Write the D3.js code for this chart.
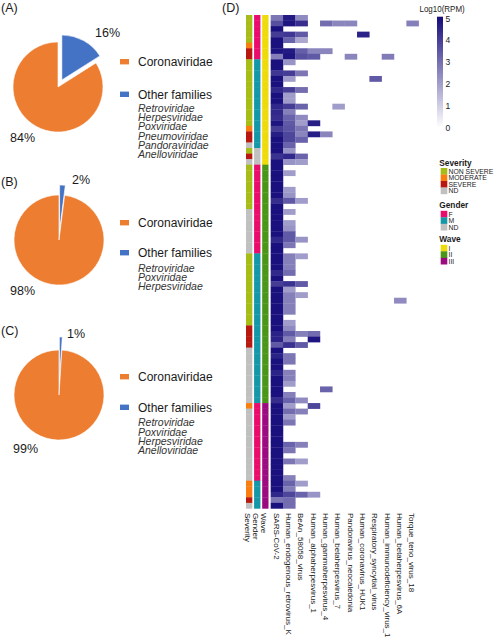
<!DOCTYPE html>
<html><head><meta charset="utf-8">
<script src="https://cdn.jsdelivr.net/npm/d3@7"></script>
<style>body{margin:0;background:#fff}svg{display:block;font-family:"Liberation Sans",Arial,sans-serif}</style>
</head><body>
<script>
// ---------- DATA ----------
const pieCategories = ["Other families", "Coronaviridae"];
const pieA = [16, 84];
const pieB = [2, 98];
const pieC = [1, 99];
const familiesA = ["Retroviridae", "Herpesviridae", "Poxviridae", "Pneumoviridae", "Pandoraviridae", "Anelloviridae"];
const familiesB = ["Retroviridae", "Poxviridae", "Herpesviridae"];
const familiesC = ["Retroviridae", "Poxviridae", "Herpesviridae", "Anelloviridae"];

const viruses = ["SARS-CoV-2", "Human_endogenous_retrovirus_K", "BeAn_58058_virus", "Human_alphaherpesvirus_1",
  "Human_gammaherpesvirus_4", "Human_betaherpesvirus_7", "Pandoravirus_neocaledonia", "Human_coronavirus_HUK1",
  "Respiratory_syncytial_virus", "Human_immunodeficiency_virus_1", "Human_betaherpesvirus_6A", "Torque_teno_virus_18"];
const annotations = ["Severity", "Gender", "Wave"];
const severityLevels = ["NON SEVERE", "MODERATE", "SEVERE", "ND"];
const genderLevels = ["F", "M", "ND"];
const waveLevels = ["I", "II", "III"];

// per sample (89 samples), index into the level arrays
const severity = [0,0,0,0,0,1,2,2,0,0, 0,0,0,0,0,0,0,0,0,0, 1,2,2,3,0,2,3,0,0,0, 0,0,0,0,0,3,3,3,3,3,
  3,3,3,0,0,0,0,0,0,0, 0,0,0,0,0,0,2,2,2,2, 3,3,3,3,3,3,3,3,3,3, 1,3,3,3,3,3,3,3,3,3, 3,3,3,3,1,1,1,2,3];
const gender = [0,0,0,0,0,0,0,0,1,1, 1,1,1,1,1,1,1,1,1,1, 1,1,1,1,2,2,2,0,0,0, 0,0,0,0,0,0,0,0,0,0,
  0,0,0,1,1,1,1,1,1,1, 1,1,1,1,1,1,1,1,1,1, 1,1,1,1,1,1,1,1,1,1, 0,0,0,0,0,0,0,0,0,0, 0,0,0,0,1,1,1,1,1];
const wave = [0,0,0,0,0,0,0,0,0,0, 0,0,0,0,0,0,0,0,0,0, 0,0,0,0,0,0,0,1,1,1, 1,1,1,1,1,1,1,1,1,1,
  1,1,1,1,1,1,1,1,1,1, 1,1,1,1,1,1,1,1,1,1, 1,1,1,1,1,1,1,1,1,1, 2,2,2,2,2,2,2,2,2,2, 2,2,2,2,2,2,2,2,2];

// log10(RPM) per sample, columns in "viruses" order (missing trailing entries = 0)
const rpm = [
  [2.8,4.7,2.4],
  [3.6,4.8,4.3,0,3.0,2.5,2.5,0,0,0,0,2.6],
  [4.9],
  [4.0,4.1,3.4,0,0,0,0,4.5],
  [4.9,3.2,1.8],
  [4.9],
  [4.8,4.7,3.3,2.5,2.5],
  [2.6,4.8,3.6,3.4,0,0,2.5,0,0,2.7],
  [4.9,2.2],
  [4.9],
  [4.1,4.0,2.8],
  [4.9,2.0,0,0,0,0,0,0,3.4],
  [4.9],
  [4.4,4.0,3.0],
  [4.9,2.0],
  [4.9,2.0],
  [4.4,4.0,3.2,0,0,2.0],
  [4.4,2.6],
  [4.3,3.2,2.4],
  [4.8,3.4,2.0,4.6],
  [4.0,3.5,2.8],
  [4.6,3.8,2.5,4.6,2.5],
  [4.9,3.8,3.2],
  [4.9,3.2],
  [4.9,2.2],
  [4.2,4.4,3.2],
  [4.9,2.2,2.0],
  [4.9],
  [4.9,2.0],
  [4.9],
  [4.9],
  [4.9,2.0],
  [4.9,2.2],
  [4.3,3.4,2.0],
  [4.9],
  [4.9,2.0],
  [4.9],
  [4.9,2.0],
  [4.9,2.2],
  [4.9,3.4],
  [4.4,3.4,2.2],
  [4.9,2.8],
  [4.9],
  [4.9,2.6,2.0],
  [4.9,2.6],
  [4.9,2.6],
  [4.4,3.0],
  [4.9],
  [4.0,4.2,3.4],
  [4.9,2.0],
  [4.9,2.6,2.0],
  [4.9,2.6,0,0,0,0,0,0,0,0,2.4],
  [4.9,2.6],
  [4.9,2.6],
  [4.9],
  [4.9,2.0],
  [4.9,2.4],
  [4.5,3.4,2.6,3.0],
  [4.5,2.6,0,4.8],
  [3.4,4.2,3.4],
  [4.9],
  [4.5,2.8],
  [4.9,2.8],
  [4.9],
  [4.5,2.6],
  [4.9,2.6],
  [4.9,2.0],
  [4.9,0,0,0,3.2],
  [4.9,2.6],
  [4.3,3.2,2.4],
  [4.9,2.0,0,3.8],
  [4.9,3.0,2.6],
  [4.9,2.0],
  [4.9,2.8],
  [4.9],
  [4.9],
  [4.9],
  [4.9,3.2,2.6],
  [4.9,2.8],
  [4.9],
  [4.9,2.8,2.0],
  [4.9],
  [4.9],
  [4.9,2.6],
  [4.9,3.2,2.0],
  [4.9,2.6],
  [4.4,3.8,3.2,2.2],
  [2.8,3.0],
  [4.9,3.0]
];
const legendTicks = [0,1,2,3,4,5];

// ---------- STYLE ----------
const pieColors = ["#4472c4", "#ed7d31"];
const severityColors = ["#a5bd16", "#fa7d12", "#b8180f", "#c0c0c0"];
const genderColors = ["#ea0c6c", "#1497a6", "#c0c0c0"];
const waveColors = ["#efda0a", "#4a9618", "#9c0a80"];
const textColor = "#1a1a1a";

const svg = d3.select("body").append("svg").attr("width", 500).attr("height", 637);
svg.append("rect").attr("width", 500).attr("height", 637).attr("fill", "#fff");

// ---------- PIES ----------
const panels = [
  {tag: "(A)", tagY: 12, values: pieA, fam: familiesA, cx: 58, cy: 87, explode: 8,
   pBlue: [95, 36.7], pOrange: [10, 141.7], legY: 61.7, otherY: 94.3, famY: 108.3},
  {tag: "(B)", tagY: 186, values: pieB, fam: familiesB, cx: 59, cy: 240, explode: 10,
   pBlue: [72, 184], pOrange: [10, 295], legY: 222.7, otherY: 252.7, famY: 268.3},
  {tag: "(C)", tagY: 334.5, values: pieC, fam: familiesC, cx: 59, cy: 395, explode: 13,
   pBlue: [67, 338], pOrange: [13, 453], legY: 376.7, otherY: 407.3, famY: 422.7}
];
const pie = d3.pie().sort(null).value(d => d);
const arc = d3.arc().innerRadius(0).outerRadius(45);

panels.forEach(p => {
  svg.append("text").attr("x", 1).attr("y", p.tagY).attr("font-size", 12.5).attr("fill", textColor).text(p.tag);
  const g = svg.append("g").attr("transform", `translate(${p.cx},${p.cy})`);
  pie(p.values).forEach((a, i) => {
    const mid = (a.startAngle + a.endAngle) / 2;
    const e = i === 0 ? p.explode : 0;
    g.append("path").attr("d", arc(a))
      .attr("transform", `translate(${Math.sin(mid) * e},${-Math.cos(mid) * e})`)
      .attr("fill", pieColors[i]).attr("stroke", "#fff").attr("stroke-width", 0.6);
  });
  svg.append("text").attr("x", p.pBlue[0]).attr("y", p.pBlue[1]).attr("font-size", 12.5).attr("fill", textColor).text(p.values[0] + "%");
  svg.append("text").attr("x", p.pOrange[0]).attr("y", p.pOrange[1]).attr("font-size", 12.5).attr("fill", textColor).text(p.values[1] + "%");
  [[1, p.legY], [0, p.otherY]].forEach(([i, yy]) => {
    svg.append("rect").attr("x", 120).attr("y", yy - 2.7).attr("width", 9).attr("height", 5.4).attr("fill", pieColors[i]);
    svg.append("text").attr("x", 138).attr("y", yy).attr("dy", "0.36em").attr("font-size", 12).attr("fill", textColor).text(pieCategories[i]);
  });
  p.fam.forEach((f, k) => {
    svg.append("text").attr("x", 138).attr("y", p.famY + k * 9.2).attr("dy", "0.36em")
      .attr("font-size", 10.5).attr("font-style", "italic").attr("fill", "#333").text(f);
  });
});

// ---------- HEATMAP ----------
svg.append("text").attr("x", 222).attr("y", 12).attr("font-size", 12.5).attr("fill", textColor).text("(D)");

const nS = rpm.length;
const x = d3.scaleBand().domain(viruses).range([270.7, 418.7]);
const y = d3.scaleBand().domain(d3.range(nS)).range([15, 508.4]);
const ax = d3.scaleBand().domain(annotations).range([246, 268.5]).paddingInner(0.22);
const color = d3.scaleLinear().domain([0, 5]).range(["#ffffff", "#150b7b"]).interpolate(d3.interpolateRgb);

const cells = [];
rpm.forEach((row, i) => viruses.forEach((v, j) => {
  const val = row[j] || 0;
  if (val > 0) cells.push({i, v, val});
}));
svg.append("g").selectAll("rect").data(cells).join("rect")
  .attr("x", d => x(d.v)).attr("y", d => y(d.i))
  .attr("width", x.bandwidth() + 0.2).attr("height", y.bandwidth() + 0.3)
  .attr("fill", d => color(d.val));

const annData = [
  {name: "Severity", vals: severity, cols: severityColors},
  {name: "Gender", vals: gender, cols: genderColors},
  {name: "Wave", vals: wave, cols: waveColors}
];
annData.forEach(a => {
  svg.append("g").selectAll("rect").data(a.vals).join("rect")
    .attr("x", ax(a.name)).attr("y", (d, i) => y(i))
    .attr("width", ax.bandwidth()).attr("height", y.bandwidth() + 0.3)
    .attr("fill", d => a.cols[d]);
});

const labels = annotations.map(n => ({n, cx: ax(n) + ax.bandwidth() / 2 - 1.5}))
  .concat(viruses.map(n => ({n, cx: x(n) + x.bandwidth() / 2 - 0.5})));
svg.append("g").selectAll("text").data(labels).join("text")
  .attr("transform", d => `translate(${d.cx},513) rotate(90)`)
  .attr("dy", "0.35em").attr("font-size", 8).attr("fill", textColor).text(d => d.n);

// ---------- CONTINUOUS LEGEND ----------
const ly = d3.scaleLinear().domain([0, 5]).range([127.7, 18.3]);
const grad = svg.append("defs").append("linearGradient").attr("id", "lg")
  .attr("x1", 0).attr("y1", 1).attr("x2", 0).attr("y2", 0);
legendTicks.forEach(t => grad.append("stop").attr("offset", t / 5).attr("stop-color", color(t)));
svg.append("text").attr("x", 419.5).attr("y", 12.5).attr("font-size", 8.4).attr("fill", textColor)
  .attr("transform", "translate(419.5,0) scale(0.95,1) translate(-419.5,0)").text("Log10(RPM)");
svg.append("rect").attr("x", 437).attr("y", ly(5) - 1.6).attr("width", 6).attr("height", ly(0) - ly(5) + 1.6).attr("fill", "url(#lg)");
const axisG = svg.append("g").attr("transform", "translate(442,0)")
  .call(d3.axisRight(ly).tickValues(legendTicks).tickSize(0).tickPadding(3.5).tickFormat(d3.format("d")));
axisG.select(".domain").remove();
axisG.selectAll("text").attr("font-size", 8.5).attr("fill", textColor).attr("font-family", '"Liberation Sans",Arial,sans-serif');

// ---------- CATEGORICAL LEGENDS ----------
const catLegends = [
  {title: "Severity", levels: severityLevels, cols: severityColors, titleY: 166, top: 168},
  {title: "Gender", levels: genderLevels, cols: genderColors, titleY: 208.3, top: 210.8},
  {title: "Wave", levels: waveLevels, cols: waveColors, titleY: 242, top: 244.8}
];
const itemH = 6.5;
catLegends.forEach(c => {
  svg.append("text").attr("x", 439.3).attr("y", c.titleY).attr("font-size", 8.3).attr("font-weight", "bold")
    .attr("fill", textColor).text(c.title);
  c.levels.forEach((lv, k) => {
    svg.append("rect").attr("x", 440.7).attr("y", c.top + k * itemH).attr("width", 6.6).attr("height", itemH + 0.2).attr("fill", c.cols[k]);
    const ty = c.top + k * itemH + itemH / 2;
    svg.append("text").attr("transform", `translate(448.5,${ty}) scale(0.9,1)`)
      .attr("dy", "0.36em").attr("font-size", 7.6).attr("fill", textColor).text(lv);
  });
});
</script>
</body></html>
